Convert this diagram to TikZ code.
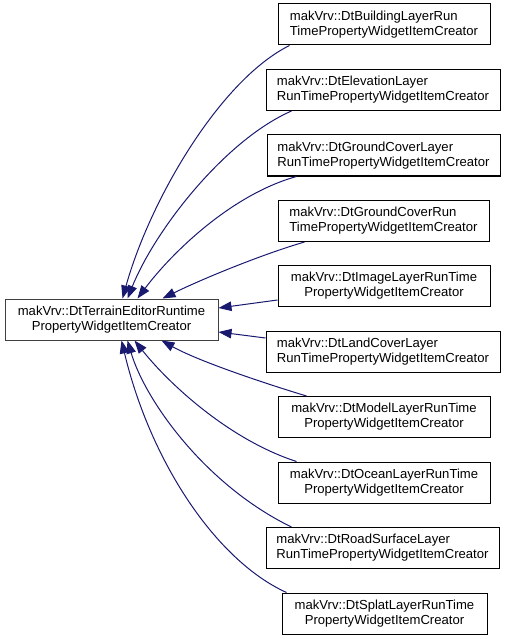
\documentclass[tikz,border=0pt]{standalone}
\usepackage{fontspec}
\setmainfont{Liberation Sans}
\usetikzlibrary{arrows.meta,calc}
\definecolor{edgeblue}{HTML}{191970}
\definecolor{basegray}{HTML}{404040}
\begin{document}
\begin{tikzpicture}[x=1pt,y=-1pt,
  cls/.style={draw=black, fill=white, line width=1pt, minimum height=41pt, inner xsep=0pt, inner ysep=0pt,
    font=\fontsize{13.1}{15}\selectfont},
  inh/.style={draw=edgeblue, line width=1pt, -{Triangle[length=13pt,width=9.5pt]}}]
\useasboundingbox (0,0) rectangle (507,639);
\node[cls, draw=basegray, minimum width=213pt, align=center] (base) at (111.5,319.5) {makVrv::DtTerrainEditorRuntime\\PropertyWidgetItemCreator};
\node[cls, minimum width=212pt, align=left] (b1) at (384,24.5) {makVrv::DtBuildingLayerRun\\TimePropertyWidgetItemCreator};
\node[cls, minimum width=234pt, align=left] (b2) at (383,90) {makVrv::DtElevationLayer\\RunTimePropertyWidgetItemCreator};
\node[cls, minimum width=233pt, align=left] (b3) at (383.5,155.5) {makVrv::DtGroundCoverLayer\\RunTimePropertyWidgetItemCreator};
\node[cls, minimum width=211pt, align=left] (b4) at (383.5,221) {makVrv::DtGroundCoverRun\\TimePropertyWidgetItemCreator};
\node[cls, minimum width=212pt, align=center] (b5) at (384,286) {makVrv::DtImageLayerRunTime\\PropertyWidgetItemCreator};
\node[cls, minimum width=234pt, align=left] (b6) at (383,351.5) {makVrv::DtLandCoverLayer\\RunTimePropertyWidgetItemCreator};
\node[cls, minimum width=212pt, align=center] (b7) at (384,417) {makVrv::DtModelLayerRunTime\\PropertyWidgetItemCreator};
\node[cls, minimum width=212pt, align=center] (b8) at (384,482.5) {makVrv::DtOceanLayerRunTime\\PropertyWidgetItemCreator};
\node[cls, minimum width=233pt, align=left] (b9) at (382.5,548) {makVrv::DtRoadSurfaceLayer\\RunTimePropertyWidgetItemCreator};
\node[cls, minimum width=205pt, align=center] (b10) at (384.5,613.5) {makVrv::DtSplatLayerRunTime\\PropertyWidgetItemCreator};
% edges above
\draw[inh] ($(b1.south west)+(12,0)$) .. controls (220,80) and (150,200) .. ($(base.north west)+(118,0)$);
\draw[inh] ($(b2.south west)+(26,0)$) .. controls (225,140) and (155,230) .. ($(base.north west)+(123,0)$);
\draw[inh] ($(b3.south west)+(30,0)$) .. controls (230,195) and (170,255) .. ($(base.north west)+(133,0)$);
\draw[inh] ($(b4.south west)+(27,0)$) .. controls (260,255) and (200,280) .. ($(base.north west)+(158,0)$);
% straight edges
\draw[inh] ($(b5.west)+(0,14)$) -- ($(base.east)+(0,-11.5)$);
\draw[inh] ($(b6.west)+(0,-13.5)$) -- ($(base.east)+(0,12.5)$);
% edges below
\draw[inh] ($(b7.north west)+(29,0)$) .. controls (270,385) and (200,362) .. ($(base.south west)+(157,0)$);
\draw[inh] ($(b8.north west)+(19,0)$) .. controls (230,440) and (170,385) .. ($(base.south west)+(130,0)$);
\draw[inh] ($(b9.north west)+(26,0)$) .. controls (205,485) and (145,400) .. ($(base.south west)+(123,0)$);
\draw[inh] ($(b10.north west)+(5,0)$) .. controls (215,560) and (150,460) .. ($(base.south west)+(117,0)$);
\end{tikzpicture}
\end{document}
